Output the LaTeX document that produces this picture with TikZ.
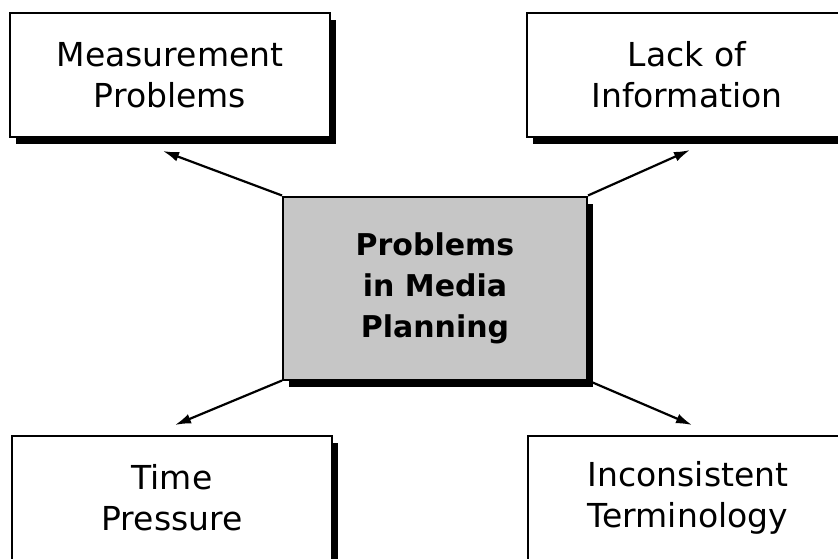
\documentclass[tikz,border=0pt]{standalone}
\usepackage{fontspec}
\setmainfont{DejaVu Sans}
\usepackage{xcolor}
\usepackage{tikz}
\usetikzlibrary{arrows.meta,shadows}
\definecolor{lgray}{RGB}{198, 198, 198}
\tikzset{
  outerbox/.style={draw, line width=2pt, fill=white, inner sep=0pt,
    minimum width=320pt, minimum height=124pt, align=center,
    font=\fontsize{33}{41}\selectfont,
    drop shadow={fill=black, opacity=1, shadow xshift=6pt, shadow yshift=-7pt}},
  centrebox/.style={outerbox, fill=lgray, minimum width=304pt,
    minimum height=183pt, font=\bfseries\fontsize{30}{41}\selectfont},
  link/.style={-{Latex[length=16pt, width=10pt]}, line width=2.2pt}
}

\begin{document}
\begin{tikzpicture}[x=1pt, y=1pt]
  \useasboundingbox (0, 0) rectangle (838, -558);
  \node[centrebox] (mid) at (435, -288){Problems\\in Media\\Planning};
  \node[outerbox] (meas) at (170, -75){Measurement\\Problems};
  \node[outerbox] (lack) at (687, -75){Lack of\\Information};
  \node[outerbox] (time) at (172, -498){Time\\Pressure};
  \node[outerbox] (term) at (688, -498){Inconsistent\\Terminology};
  \coordinate (measEnd) at (163, -151);
  \coordinate (lackEnd) at (690, -150);
  \coordinate (timeEnd) at (175, -425);
  \coordinate (termEnd) at (692, -425);
  \draw[link] (mid.north west) -- (measEnd);
  \draw[link] (mid.north east) -- (lackEnd);
  \draw[link] (mid.south west) -- (timeEnd);
  \draw[link] (mid.south east) -- (termEnd);
\end{tikzpicture}
\end{document}
